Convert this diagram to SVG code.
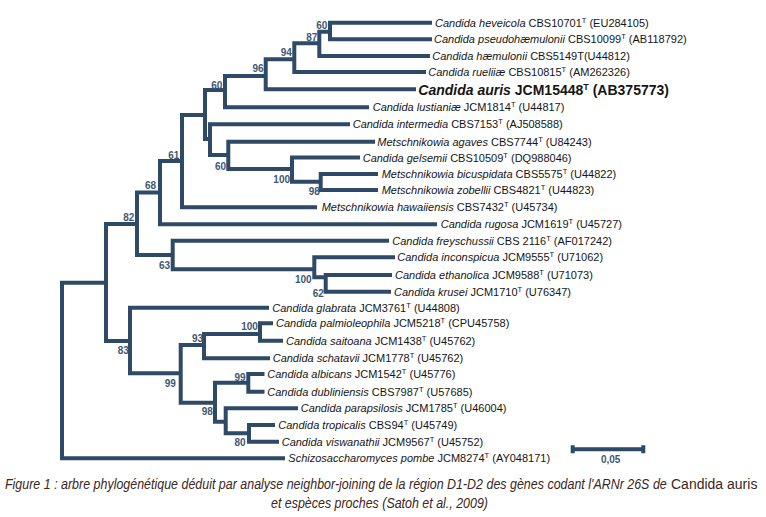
<svg xmlns="http://www.w3.org/2000/svg" width="766" height="517" viewBox="0 0 766 517">
<style>
.br{fill:none;stroke:#2f4a66;stroke-width:4;stroke-linejoin:miter;stroke-linecap:butt}
.tx{font-family:"Liberation Sans",Arial,sans-serif;font-size:11px;fill:#151515}
.big{font-size:14px;font-weight:bold}
.it{font-style:italic}
.sp{font-size:7.5px}
.sp2{font-size:9px}
.bs{font-family:"Liberation Sans",Arial,sans-serif;font-size:10px;font-weight:bold;fill:#3f5774;text-anchor:middle}
.cap{font-family:"Liberation Sans",Arial,sans-serif;font-size:14px;fill:#3d2520}
</style>
<rect width="766" height="517" fill="#ffffff"/>
<g id="connectors">
<path class="br" d="M106 282.7H62V458.3H285"/>
<path class="br" d="M137 224H106V341H130"/>
<path class="br" d="M160 192.5H137V255H172.7"/>
<path class="br" d="M182 161H160V224.3H437"/>
<path class="br" d="M205 115H182V207.3H317"/>
<path class="br" d="M225 90H205V139H210"/>
<path class="br" d="M265.7 76H225V107.3H369"/>
<path class="br" d="M294.3 59.3H265.7V89.3H416"/>
<path class="br" d="M319.3 43.3H294.3V72H426"/>
<path class="br" d="M330 31.7H319.3V56H430"/>
<path class="br" d="M432 22.7H330V39.3H432"/>
<path class="br" d="M350 124.3H210V155H228.3"/>
<path class="br" d="M375 141.7H228.3V169H292"/>
<path class="br" d="M360 157.5H292V181.7H320.7"/>
<path class="br" d="M378 174H320.7V190H378"/>
<path class="br" d="M389 240.7H172.7V269.3H314.3"/>
<path class="br" d="M395 257.3H314.3V277.3H325.7"/>
<path class="br" d="M392 275H325.7V291.7H391"/>
<path class="br" d="M269 307.7H130V373.3H180.7"/>
<path class="br" d="M204 345H180.7V402.7H215"/>
<path class="br" d="M260 334H204V358.3H270"/>
<path class="br" d="M273 323.3H260V340.7H283"/>
<path class="br" d="M248.3 382.7H215V421.7H225.7"/>
<path class="br" d="M264.5 374H248.3V391.7H264.5"/>
<path class="br" d="M298 408.3H225.7V433.3H249"/>
<path class="br" d="M275 425H249V441.7H279"/>
</g>
<g id="bootstrap">
<g id="n-K"><text class="bs" x="321.7" y="28.5">60</text></g>
<g id="n-J"><text class="bs" x="311.7" y="40.8">87</text></g>
<g id="n-I"><text class="bs" x="286.3" y="56.2">94</text></g>
<g id="n-H"><text class="bs" x="258" y="71.8">96</text></g>
<g id="n-G"><text class="bs" x="216.7" y="88.5">60</text></g>
<g id="n-E"><text class="bs" x="173.8" y="158.5">61</text></g>
<g id="n-M"><text class="bs" x="220.6" y="170.2">60</text></g>
<g id="n-N"><text class="bs" x="281.7" y="183">100</text></g>
<g id="n-O"><text class="bs" x="314.2" y="195.2">98</text></g>
<g id="n-D"><text class="bs" x="150.5" y="189">68</text></g>
<g id="n-C"><text class="bs" x="128.8" y="221.3">82</text></g>
<g id="n-P"><text class="bs" x="164.5" y="269">63</text></g>
<g id="n-Q"><text class="bs" x="303.3" y="283.2">100</text></g>
<g id="n-R"><text class="bs" x="318.3" y="296.8">62</text></g>
<g id="n-S"><text class="bs" x="123.3" y="353.5">83</text></g>
<g id="n-T"><text class="bs" x="170.3" y="386.8">99</text></g>
<g id="n-U"><text class="bs" x="197.5" y="342.3">93</text></g>
<g id="n-V"><text class="bs" x="249.5" y="329.8">100</text></g>
<g id="n-X"><text class="bs" x="240" y="380.5">99</text></g>
<g id="n-W"><text class="bs" x="207.2" y="414.8">98</text></g>
<g id="n-Z"><text class="bs" x="240" y="445.7">80</text></g>
</g>
<g id="taxa">
<g id="t-heveicola"><text class="tx" x="435" y="26.8"><tspan class="it">Candida heveicola</tspan> CBS10701<tspan class="sp" dy="-4">T</tspan><tspan dy="4"> (EU284105)</tspan></text></g>
<g id="t-pseudohaemulonii"><text class="tx" x="434" y="43.4"><tspan class="it">Candida pseudohæmulonii</tspan> CBS10099<tspan class="sp" dy="-4">T</tspan><tspan dy="4"> (AB118792)</tspan></text></g>
<g id="t-haemulonii"><text class="tx" x="432.3" y="60.1"><tspan class="it">Candida hæmulonii</tspan> CBS5149T(U44812)</text></g>
<g id="t-rueliiae"><text class="tx" x="428.3" y="76.1"><tspan class="it">Candida rueliiæ</tspan> CBS10815<tspan class="sp" dy="-4">T</tspan><tspan dy="4"> (AM262326)</tspan></text></g>
<g id="t-auris"><text class="tx big" x="418.3" y="94.5"><tspan class="it">Candida auris</tspan> JCM15448<tspan class="sp2" dy="-5">T</tspan><tspan dy="5"> (AB375773)</tspan></text></g>
<g id="t-lustianiae"><text class="tx" x="372.7" y="111.4"><tspan class="it">Candida lustianiæ</tspan> JCM1814<tspan class="sp" dy="-4">T</tspan><tspan dy="4"> (U44817)</tspan></text></g>
<g id="t-intermedia"><text class="tx" x="352.7" y="128.4"><tspan class="it">Candida intermedia</tspan> CBS7153<tspan class="sp" dy="-4">T</tspan><tspan dy="4"> (AJ508588)</tspan></text></g>
<g id="t-agaves"><text class="tx" x="377.3" y="145.8"><tspan class="it">Metschnikowia agaves</tspan> CBS7744<tspan class="sp" dy="-4">T</tspan><tspan dy="4"> (U84243)</tspan></text></g>
<g id="t-gelsemii"><text class="tx" x="362.7" y="161.6"><tspan class="it">Candida gelsemii</tspan> CBS10509<tspan class="sp" dy="-4">T</tspan><tspan dy="4"> (DQ988046)</tspan></text></g>
<g id="t-bicuspidata"><text class="tx" x="381.7" y="178.1"><tspan class="it">Metschnikowia bicuspidata</tspan> CBS5575<tspan class="sp" dy="-4">T</tspan><tspan dy="4"> (U44822)</tspan></text></g>
<g id="t-zobellii"><text class="tx" x="381.7" y="194.1"><tspan class="it">Metschnikowia zobellii</tspan> CBS4821<tspan class="sp" dy="-4">T</tspan><tspan dy="4"> (U44823)</tspan></text></g>
<g id="t-hawaiiensis"><text class="tx" x="321.7" y="211.4"><tspan class="it">Metschnikowia hawaiiensis</tspan> CBS7432<tspan class="sp" dy="-4">T</tspan><tspan dy="4"> (U45734)</tspan></text></g>
<g id="t-rugosa"><text class="tx" x="440.7" y="228.4"><tspan class="it">Candida rugosa</tspan> JCM1619<tspan class="sp" dy="-4">T</tspan><tspan dy="4"> (U45727)</tspan></text></g>
<g id="t-freyschussii"><text class="tx" x="392.3" y="244.8"><tspan class="it">Candida freyschussii</tspan> CBS 2116<tspan class="sp" dy="-4">T</tspan><tspan dy="4"> (AF017242)</tspan></text></g>
<g id="t-inconspicua"><text class="tx" x="397.3" y="261.4"><tspan class="it">Candida inconspicua</tspan> JCM9555<tspan class="sp" dy="-4">T</tspan><tspan dy="4"> (U71062)</tspan></text></g>
<g id="t-ethanolica"><text class="tx" x="395" y="279.1"><tspan class="it">Candida ethanolica</tspan> JCM9588<tspan class="sp" dy="-4">T</tspan><tspan dy="4"> (U71073)</tspan></text></g>
<g id="t-krusei"><text class="tx" x="394" y="295.8"><tspan class="it">Candida krusei</tspan> JCM1710<tspan class="sp" dy="-4">T</tspan><tspan dy="4"> (U76347)</tspan></text></g>
<g id="t-glabrata"><text class="tx" x="272.3" y="311.8"><tspan class="it">Candida glabrata</tspan> JCM3761<tspan class="sp" dy="-4">T</tspan><tspan dy="4"> (U44808)</tspan></text></g>
<g id="t-palmioleophila"><text class="tx" x="276" y="327.4"><tspan class="it">Candida palmioleophila</tspan> JCM5218<tspan class="sp" dy="-4">T</tspan><tspan dy="4"> (CPU45758)</tspan></text></g>
<g id="t-saitoana"><text class="tx" x="286" y="344.8"><tspan class="it">Candida saitoana</tspan> JCM1438<tspan class="sp" dy="-4">T</tspan><tspan dy="4"> (U45762)</tspan></text></g>
<g id="t-schatavii"><text class="tx" x="272.7" y="362.4"><tspan class="it">Candida schatavii</tspan> JCM1778<tspan class="sp" dy="-4">T</tspan><tspan dy="4"> (U45762)</tspan></text></g>
<g id="t-albicans"><text class="tx" x="267.3" y="378.1"><tspan class="it">Candida albicans</tspan> JCM1542<tspan class="sp" dy="-4">T</tspan><tspan dy="4"> (U45776)</tspan></text></g>
<g id="t-dubliniensis"><text class="tx" x="267.3" y="395.8"><tspan class="it">Candida dubliniensis</tspan> CBS7987<tspan class="sp" dy="-4">T</tspan><tspan dy="4"> (U57685)</tspan></text></g>
<g id="t-parapsilosis"><text class="tx" x="300.7" y="412.4"><tspan class="it">Candida parapsilosis</tspan> JCM1785<tspan class="sp" dy="-4">T</tspan><tspan dy="4"> (U46004)</tspan></text></g>
<g id="t-tropicalis"><text class="tx" x="278.3" y="429.1"><tspan class="it">Candida tropicalis</tspan> CBS94<tspan class="sp" dy="-4">T</tspan><tspan dy="4"> (U45749)</tspan></text></g>
<g id="t-viswanathii"><text class="tx" x="281.7" y="445.8"><tspan class="it">Candida viswanathii</tspan> JCM9567<tspan class="sp" dy="-4">T</tspan><tspan dy="4"> (U45752)</tspan></text></g>
<g id="t-pombe"><text class="tx" x="288.3" y="462.4"><tspan class="it">Schizosaccharomyces pombe</tspan> JCM8274<tspan class="sp" dy="-4">T</tspan><tspan dy="4"> (AY048171)</tspan></text></g>
</g>
<g id="scale-bar">
<path class="br" d="M572.7 449.3H643.3M572.7 445.3V453.3M643.3 445.3V453.3" stroke-width="3"/>
<text class="bs" x="610.7" y="463">0,05</text>
</g>
<g id="caption">
<g transform="translate(5 489) scale(0.82 1)"><text class="cap" x="0" y="0" font-style="italic" textLength="807" lengthAdjust="spacingAndGlyphs">Figure 1 : arbre phylogénétique déduit par analyse neighbor-joining de la région D1-D2 des gènes codant l'ARNr 26S de</text></g>
<text class="cap" x="671" y="489">Candida auris</text>
<g transform="translate(271 508) scale(0.82 1)"><text class="cap" x="0" y="0" font-style="italic" textLength="264.6" lengthAdjust="spacingAndGlyphs">et espèces proches (Satoh et al., 2009)</text></g>
</g>
</svg>
